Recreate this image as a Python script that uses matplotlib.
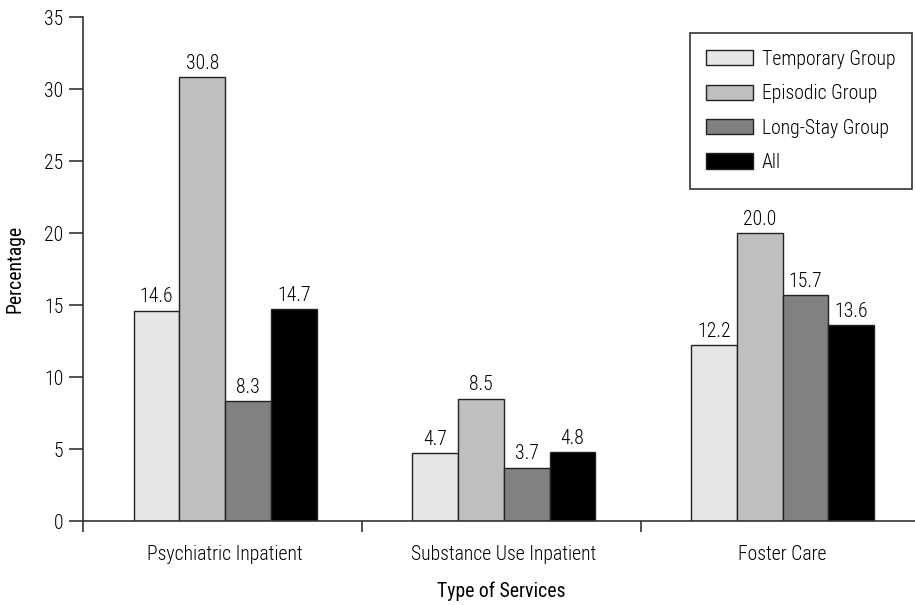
import numpy as np
import matplotlib.pyplot as plt

plt.rcParams['font.family'] = ['Roboto Condensed', 'DejaVu Sans']
plt.rcParams['font.weight'] = 'light'

# 数据
categories = ['Psychiatric Inpatient', 'Substance Use Inpatient', 'Foster Care']
groups = ['Temporary Group', 'Episodic Group', 'Long-Stay Group', 'All']
temporary = [14.6, 4.7, 12.2]
episodic = [30.8, 8.5, 20.0]
long_stay = [8.3, 3.7, 15.7]
all_groups = [14.7, 4.8, 13.6]
colors = ['#e6e6e6', '#bebfc1', '#808183', '#000000']

series = [temporary, episodic, long_stay, all_groups]
fs = 14.2

fig = plt.figure(figsize=(9.15, 6.05), dpi=100)
ax = fig.add_axes([0.0907, 0.1388, 0.914, 0.8331])

x = np.arange(len(categories)) + 0.51
w = 0.164
for i, (vals, name, c) in enumerate(zip(series, groups, colors)):
    pos = x + (i - 1.5) * w
    ax.bar(pos, vals, width=w, color=c, edgecolor='#222222', linewidth=1.0,
           label=name, zorder=2)
    for p, v in zip(pos, vals):
        ax.text(p, v + 0.3, f'{v:.1f}', ha='center', va='bottom', fontsize=fs)

ax.set_xlim(0, 3)
ax.set_ylim(0, 35)
ax.set_yticks(np.arange(0, 36, 5))
ax.set_xticks([0, 1, 2])
ax.set_xticklabels([])
ax.set_xticks(x, minor=True)
ax.set_xticklabels(categories, minor=True, fontsize=fs)
ax.tick_params(axis='x', which='minor', length=0, pad=17)
ax.tick_params(axis='x', which='major', length=8, width=1.2, color='#333333')
ax.tick_params(axis='y', length=10, width=1.2, color='#333333', labelsize=fs, pad=4)

for s in ['top', 'right']:
    ax.spines[s].set_visible(False)
for s in ['left', 'bottom']:
    ax.spines[s].set_color('#333333')
    ax.spines[s].set_linewidth(1.2)

ax.set_ylabel('Percentage', fontsize=fs, labelpad=14)
ax.set_xlabel('Type of Services', fontsize=fs, labelpad=13)

leg = ax.legend(loc='upper right', bbox_to_anchor=(0.9967, 0.9455),
                bbox_transform=fig.transFigure, fontsize=fs,
                frameon=True, fancybox=False, edgecolor='#000000',
                handlelength=2.35, handleheight=0.8, borderpad=0.85, labelspacing=0.78,
                handletextpad=0.45, borderaxespad=0)
leg.get_frame().set_linewidth(1.2)

plt.savefig('out.png', dpi=100)
